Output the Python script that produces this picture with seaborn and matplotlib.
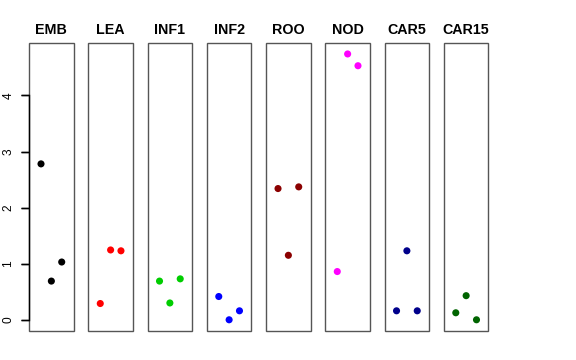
import matplotlib
matplotlib.use("Agg")
import matplotlib.pyplot as plt
import seaborn as sns
import pandas as pd
from matplotlib.patches import Rectangle

tissues = ["EMB", "LEA", "INF1", "INF2", "ROO", "NOD", "CAR5", "CAR15"]
colors = ["#000000", "#FF0000", "#00CD00", "#0000FF", "#8B0000", "#FF00FF", "#00008B", "#006400"]
replicates = [1, 2, 3]
emb = [2.78, 0.69, 1.03]
lea = [0.29, 1.245, 1.23]
inf1 = [0.69, 0.30, 0.73]
inf2 = [0.415, 0.0, 0.16]
roo = [2.34, 1.15, 2.37]
nod = [0.86, 4.74, 4.53]
car5 = [0.16, 1.23, 0.16]
car15 = [0.125, 0.43, 0.0]
yticks = [0, 1, 2, 3, 4]

values = [emb, lea, inf1, inf2, roo, nod, car5, car15]
rows = []
for t, vals in zip(tissues, values):
    for r, v in zip(replicates, vals):
        rows.append({"tissue": t, "rep": r, "value": v})
df = pd.DataFrame(rows)

sns.set_theme(style="ticks", rc={"text.color": "black", "axes.labelcolor": "black",
                                 "xtick.color": "black", "ytick.color": "black"})
plt.rcParams["font.family"] = ["Liberation Sans", "DejaVu Sans"]

fig, axes = plt.subplots(1, len(tissues), figsize=(5.76, 3.6), dpi=100)
fig.subplots_adjust(left=29 / 576, right=488.5 / 576, top=1 - 43.3 / 360, bottom=1 - 331 / 360, wspace=0.325)

for i, (ax, t, c) in enumerate(zip(axes, tissues, colors)):
    sub = df[df["tissue"] == t]
    sns.scatterplot(data=sub, x="rep", y="value", color=c, s=26, edgecolor="none", ax=ax, legend=False)
    ax.set_xlim(-0.16, 4.16)
    ax.set_ylim(-0.2, 4.93)
    ax.set_xticks([])
    ax.set_xlabel("")
    ax.set_ylabel("")
    ax.set_title(t, fontsize=10.3, fontweight="bold", pad=6.5, color="black")
    for s in ax.spines.values():
        s.set_visible(False)
    ax.add_patch(Rectangle((0, 0), 1, 1, transform=ax.transAxes, fill=False,
                           edgecolor="#555555", linewidth=1.0, clip_on=False, zorder=5))
    if i == 0:
        ax.spines["left"].set_visible(True)
        ax.spines["left"].set_color("black")
        ax.spines["left"].set_linewidth(1.0)
        ax.spines["left"].set_bounds(0, 4)
        ax.spines["left"].set_zorder(6)
        ax.set_yticks(yticks)
        ax.set_yticklabels([str(v) for v in yticks], rotation=90, va="center", fontsize=8.6)
        ax.tick_params(axis="y", which="major", left=True, right=False, labelleft=True,
                       direction="out", length=5.5, width=1.0, color="black", pad=5)
        # explicit tick marks (axis decoration) drawn outward from the left edge
        ax.hlines(yticks, -0.17, 0, transform=ax.get_yaxis_transform(), colors="black",
                  linewidth=1.0, clip_on=False, zorder=6)
    else:
        ax.set_yticks([])

fig.savefig("out.png", dpi=100)
